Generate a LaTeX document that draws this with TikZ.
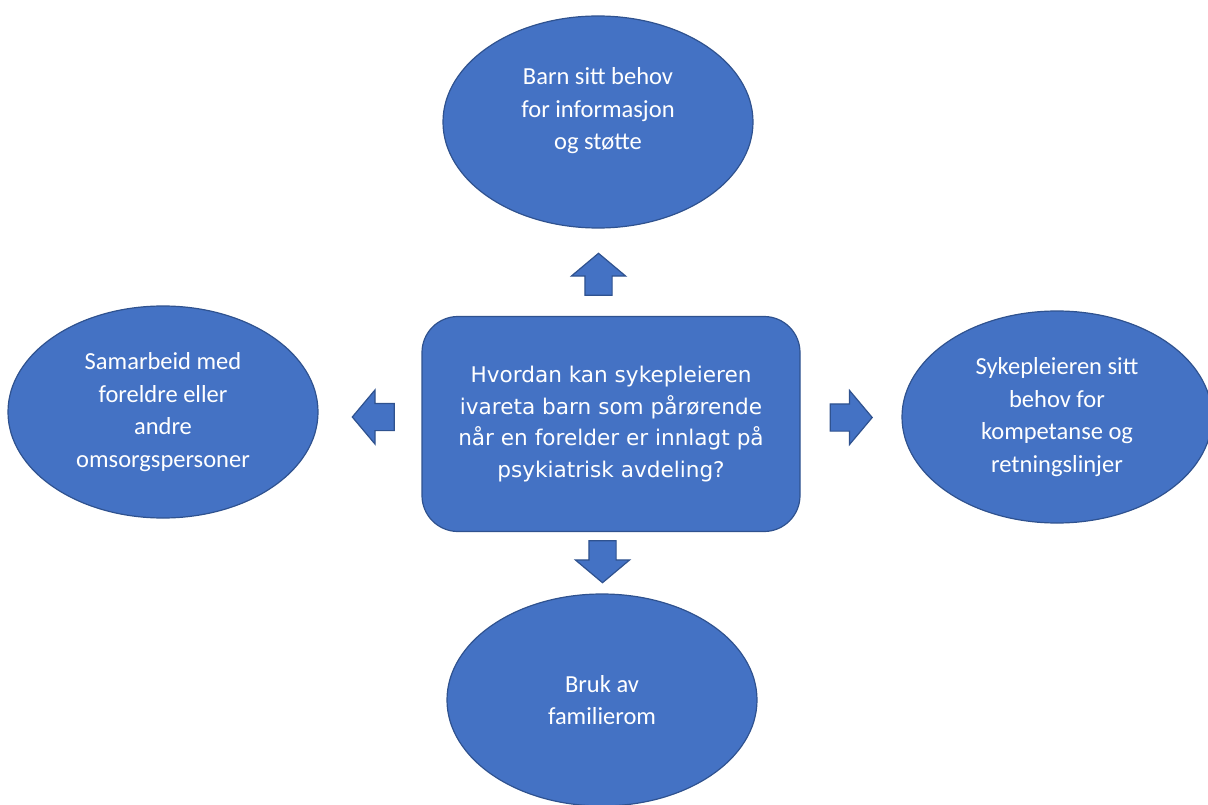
\documentclass[tikz,border=0pt]{standalone}
\usepackage{fontspec}
\setmainfont{Carlito}
\newfontfamily\hubfont{DejaVu Sans}
\usetikzlibrary{positioning, shapes.geometric, shapes.arrows}
\definecolor{officeblue}{HTML}{4472C4}
\definecolor{officeedge}{HTML}{2F528F}

\begin{document}
\begin{tikzpicture}[x=1pt,y=-1pt,on grid,
      bubble/.style={ellipse,draw=officeedge,fill=officeblue,line width=1.2pt,text=white,
        minimum width=310pt,minimum height=212pt,align=center,font=\fontsize{24.5}{32.5}\selectfont},
      hub/.style={rectangle,rounded corners=36pt,draw=officeedge,fill=officeblue,line width=1.2pt,text=white,
        minimum width=378pt,minimum height=215pt,align=center,font=\hubfont\fontsize{21.6}{31.5}\selectfont},
      pointer/.style={single arrow,draw=officeedge,fill=officeblue,line width=1.2pt,inner xsep=0pt,inner ysep=13pt,
        minimum height=42pt,single arrow head extend=13.5pt,single arrow tip angle=100}]
      \useasboundingbox (0,0) rectangle (1208,805);
      \node[hub] (q) at (611,424) {Hvordan kan sykepleieren\\ivareta barn som pårørende\\når en forelder er innlagt på\\psykiatrisk avdeling?};
      \node[bubble] (info) [above left=302pt and 13pt of q] {Barn sitt behov\\for informasjon\\og støtte\\[-6pt]\mbox{}};
      \node[bubble] (care) [above left=12pt and 448pt of q] {Samarbeid med\\foreldre eller\\andre\\omsorgspersoner};
      \node[bubble] (staff) [above right=7pt and 446pt of q] {Sykepleieren sitt\\behov for\\kompetanse og\\retningslinjer};
      \node[bubble] (room) [below left=276pt and 9pt of q] {Bruk av\\familierom};
      \node[pointer,rotate=90] (up) [above left=144pt and 12.5pt of q] {};
      \node[pointer,rotate=180] (left) [above left=7pt and 232pt of q] {};
      \node[pointer] (right) [above right=6.5pt and 234.5pt of q] {};
      \node[pointer,rotate=270] (down) [below left=132pt and 8.5pt of q] {};
    \end{tikzpicture}
\end{document}
